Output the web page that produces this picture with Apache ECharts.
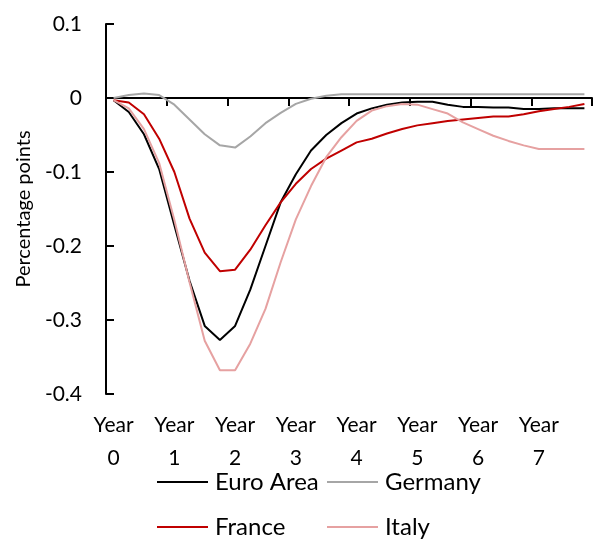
<!DOCTYPE html>
<html>
<head>
<meta charset="utf-8">
<script src="https://cdn.jsdelivr.net/npm/echarts@6/dist/echarts.min.js"></script>
<style>html,body{margin:0;padding:0;background:#fff;}#c{width:593px;height:539px;}</style>
</head>
<body>
<div id="c"></div>
<script>
const quarters = ['0','1','2','3','4','5','6','7','8','9','10','11','12','13','14','15',
  '16','17','18','19','20','21','22','23','24','25','26','27','28','29','30','31'];
const yearLabels = ['Year\n0','Year\n1','Year\n2','Year\n3','Year\n4','Year\n5','Year\n6','Year\n7'];
const seriesNames = ['Euro Area','Germany','France','Italy'];
const euroArea = [-0.003,-0.019,-0.049,-0.096,-0.172,-0.247,-0.308,-0.327,-0.308,-0.259,-0.200,-0.141,
  -0.103,-0.071,-0.050,-0.034,-0.021,-0.014,-0.009,-0.006,-0.005,-0.005,-0.009,-0.012,
  -0.012,-0.013,-0.013,-0.015,-0.015,-0.014,-0.014,-0.014];
const germany = [0.000,0.004,0.006,0.004,-0.009,-0.029,-0.049,-0.064,-0.067,-0.052,-0.034,-0.020,
  -0.008,-0.001,0.003,0.005,0.005,0.005,0.005,0.005,0.005,0.005,0.005,0.005,
  0.005,0.005,0.005,0.005,0.005,0.005,0.005,0.005];
const france = [-0.003,-0.006,-0.022,-0.055,-0.100,-0.163,-0.209,-0.234,-0.232,-0.205,-0.172,-0.141,
  -0.116,-0.096,-0.082,-0.071,-0.060,-0.055,-0.048,-0.042,-0.037,-0.034,-0.031,-0.029,
  -0.027,-0.025,-0.025,-0.022,-0.018,-0.015,-0.012,-0.008];
const italy = [-0.003,-0.014,-0.042,-0.088,-0.165,-0.249,-0.328,-0.368,-0.368,-0.332,-0.285,-0.222,
  -0.164,-0.119,-0.080,-0.053,-0.031,-0.017,-0.011,-0.008,-0.009,-0.015,-0.021,-0.033,
  -0.042,-0.051,-0.058,-0.064,-0.069,-0.069,-0.069,-0.069];
const colors = ['#000000','#a6a6a6','#c00000','#e6a1a1'];
const values = [euroArea, germany, france, italy];

const FONT = 'Lato';
const chart = echarts.init(document.getElementById('c'), null, {renderer:'canvas'});
const legendPos = [[157,470],[327,470],[157,515],[327,515]];
chart.setOption({
  animation:false,
  backgroundColor:'#fff',
  grid:{left:106,right:1,top:24,bottom:145,containLabel:false},
  legend: seriesNames.map((n,i)=>({
    data:[n], left:legendPos[i][0], top:legendPos[i][1], padding:0,
    icon:'rect', itemWidth:51, itemHeight:2,
    textStyle:{fontFamily:FONT,fontSize:24,color:'#000',padding:[0,0,0,2]}
  })),
  xAxis:[{
    type:'category', data:quarters, boundaryGap:true,
    axisLine:{show:true,onZero:true,lineStyle:{color:'#000',width:2}},
    axisTick:{show:true,interval:3,length:8,lineStyle:{color:'#000',width:2}},
    axisLabel:{show:false}, splitLine:{show:false}
  },{
    type:'category', data:quarters, boundaryGap:true, position:'bottom',
    axisLine:{show:false,onZero:false}, axisTick:{show:false},
    axisLabel:{show:true,interval:3,margin:15,fontFamily:FONT,fontSize:21,color:'#000',lineHeight:33,
      formatter:(v,i)=> (i%4===0 ? yearLabels[i/4] : '')},
    splitLine:{show:false}
  }],
  yAxis:{
    type:'value', min:-0.4, max:0.1, interval:0.1,
    name:'Percentage points', nameLocation:'middle', nameRotate:90, nameGap:70,
    nameTextStyle:{fontFamily:FONT,fontSize:20,color:'#000'},
    axisLine:{show:true,lineStyle:{color:'#000',width:2}},
    axisTick:{show:true,inside:true,length:8,lineStyle:{color:'#000',width:2}},
    axisLabel:{margin:24,fontFamily:FONT,fontSize:21,color:'#000',
      formatter:v=>{const r=Math.round(v*10)/10; return r===0?'0':String(r);}},
    splitLine:{show:false}
  },
  series: seriesNames.map((n,i)=>({
    name:n, type:'line', data:values[i], xAxisIndex:0, symbol:'none', smooth:false,
    lineStyle:{color:colors[i],width:2}, itemStyle:{color:colors[i]}
  }))
});
</script>
</body>
</html>
